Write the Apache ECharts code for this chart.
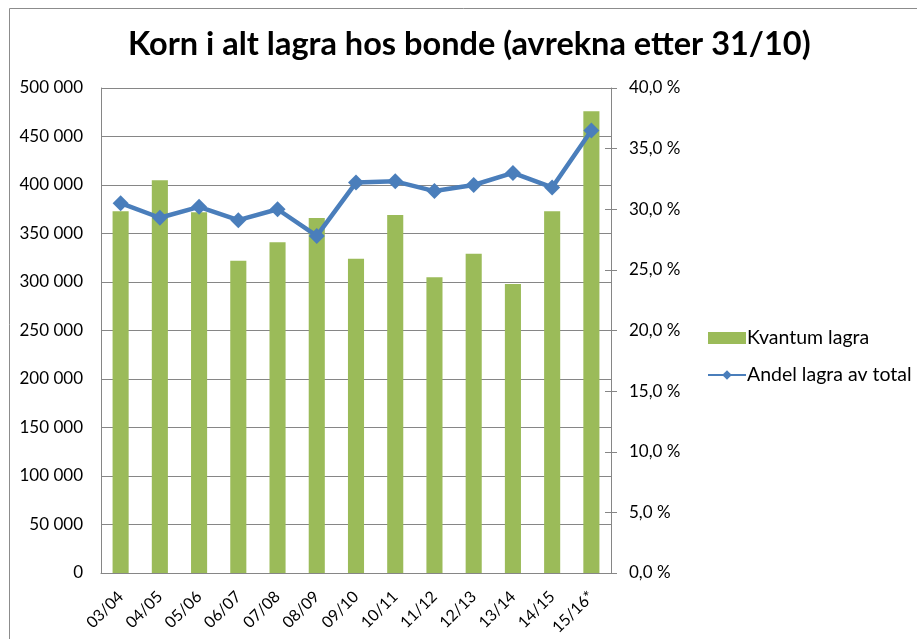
<!DOCTYPE html>
<html>
<head>
<meta charset="utf-8">
<script src="https://cdn.jsdelivr.net/npm/echarts@6/dist/echarts.min.js"></script>
<style>
html,body{margin:0;padding:0;background:#fff;}
#c{width:917px;height:639px;}
</style>
</head>
<body>
<div id="c"></div>
<script>
const categories = ['03/04','04/05','05/06','06/07','07/08','08/09','09/10','10/11','11/12','12/13','13/14','14/15','15/16*'];
const kvantumLagra = [373000, 405000, 372000, 322000, 341000, 366000, 324000, 369000, 305000, 329000, 298000, 373000, 476000];
const andelLagra = [30.5, 29.3, 30.2, 29.1, 30.0, 27.8, 32.2, 32.3, 31.5, 32.0, 33.0, 31.8, 36.5];
const titleText = 'Korn i alt lagra hos bonde (avrekna etter 31/10)';
const seriesNames = ['Kvantum lagra', 'Andel lagra av total'];

const FONT = 'Lato';
const chart = echarts.init(document.getElementById('c'), null, {renderer: 'canvas'});
const fmtLeft = v => String(v).replace(/\B(?=(\d{3})+(?!\d))/g, ' ');
const fmtRight = v => v.toFixed(1).replace('.', ',') + ' %';

chart.setOption({
  animation: false,
  backgroundColor: '#fff',
  textStyle: {fontFamily: FONT},
  graphic: [{
    type: 'rect', left: 7, top: 6, shape: {width: 1000, height: 1000},
    style: {fill: 'none', stroke: '#8c8c8c', lineWidth: 1}, z: -1
  }],
  title: {
    text: titleText, left: 128, top: 28, padding: 0,
    textStyle: {fontFamily: FONT, fontWeight: 'bold', fontSize: 32.5, color: '#000'}
  },
  legend: {
    orient: 'vertical', left: 702, top: 323, itemWidth: 38, itemHeight: 12, itemGap: 17,
    textStyle: {fontFamily: FONT, fontSize: 19.5, color: '#000', padding: [0,0,0,-4]},
    data: [
      {name: seriesNames[0], icon: 'rect'},
      {name: seriesNames[1]}
    ]
  },
  grid: {left: 101, right: 306, top: 88, bottom: 66},
  xAxis: {
    type: 'category', data: categories,
    axisLine: {lineStyle: {color: '#868686', width: 1}},
    axisTick: {show: false},
    axisLabel: {rotate: 45, fontFamily: FONT, fontSize: 16, color: '#000', margin: 21, interval: 0}
  },
  yAxis: [{
    type: 'value', min: 0, max: 500000, interval: 50000, position: 'left',
    axisLine: {show: true, lineStyle: {color: '#868686'}},
    axisTick: {show: false},
    splitLine: {lineStyle: {color: '#868686', width: 1}},
    axisLabel: {formatter: fmtLeft, fontFamily: FONT, fontSize: 17, color: '#000', margin: 18}
  }, {
    type: 'value', min: 0, max: 40, interval: 5, position: 'right',
    axisLine: {show: true, lineStyle: {color: '#868686'}},
    axisTick: {show: true, length: 6, lineStyle: {color: '#868686'}},
    splitLine: {show: false},
    axisLabel: {formatter: fmtRight, fontFamily: FONT, fontSize: 17, color: '#000', margin: 18}
  }, {
    type: 'value', min: 0, max: 40, interval: 5, position: 'right',
    axisLine: {show: false},
    axisTick: {show: true, inside: true, length: 6, lineStyle: {color: '#868686'}},
    splitLine: {show: false},
    axisLabel: {show: false}
  }],
  series: [{
    name: seriesNames[0], type: 'bar', data: kvantumLagra, yAxisIndex: 0,
    barWidth: '41%', itemStyle: {color: '#9BBB59'}
  }, {
    name: seriesNames[1], type: 'line', data: andelLagra, yAxisIndex: 1,
    symbol: 'diamond', symbolSize: 16,
    lineStyle: {color: '#4A7EBB', width: 4.5},
    itemStyle: {color: '#4A7EBB'}
  }]
});
</script>
</body>
</html>
